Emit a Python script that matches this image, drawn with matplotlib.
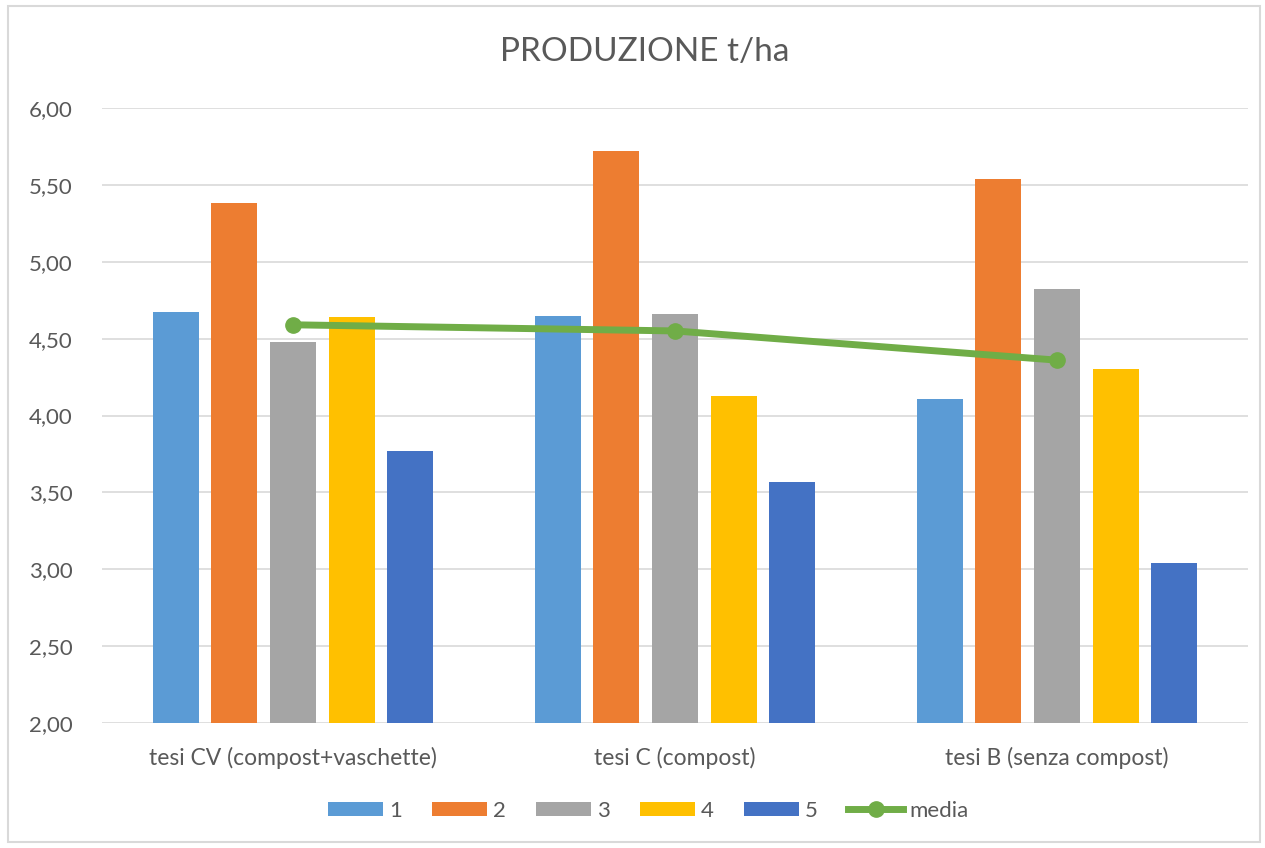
import matplotlib.pyplot as plt
import numpy as np
from matplotlib.patches import Rectangle

# Dati (t/ha)
categorie = ['tesi CV (compost+vaschette)', 'tesi C (compost)', 'tesi B (senza compost)']
serie_nomi = ['1', '2', '3', '4', '5']
serie_1 = [4.67, 4.65, 4.11]
serie_2 = [5.38, 5.72, 5.54]
serie_3 = [4.48, 4.66, 4.82]
serie_4 = [4.64, 4.13, 4.30]
serie_5 = [3.77, 3.57, 3.04]
media = [4.59, 4.55, 4.36]
y_ticks = [2.0, 2.5, 3.0, 3.5, 4.0, 4.5, 5.0, 5.5, 6.0]

colori = ['#5B9BD5', '#ED7D31', '#A5A5A5', '#FFC000', '#4472C4']
grigio = '#595959'

plt.rcParams['font.family'] = ['Lato', 'DejaVu Sans']

fig = plt.figure(figsize=(12.65, 8.48), dpi=100)
ax = fig.add_axes([102 / 1265, 1 - 723 / 848, 1146 / 1265, 615 / 848])

# bordo del grafico
fig.patches.append(Rectangle((8 / 1265, 1 - 842 / 848), 1252 / 1265, 836 / 848,
                             transform=fig.transFigure, fill=False,
                             edgecolor='#D9D9D9', linewidth=1.5))

x = np.arange(len(categorie))
passo = 0.1536
larghezza = 0.1204
tutte = [serie_1, serie_2, serie_3, serie_4, serie_5]
for i, (valori, nome) in enumerate(zip(tutte, serie_nomi)):
    ax.bar(x + (i - 2) * passo, [v - 2 for v in valori], larghezza, bottom=2,
           color=colori[i], label=nome, zorder=2)

ax.plot(x, media, color='#70AD47', linewidth=5, marker='o', markersize=11,
        label='media', zorder=3)

ax.set_xlim(-0.5, 2.5)
ax.set_ylim(2, 6)
ax.set_yticks(y_ticks)
ax.set_yticklabels([f'{v:.2f}'.replace('.', ',') for v in y_ticks])
ax.set_xticks(x)
ax.set_xticklabels(categorie)
ax.tick_params(axis='y', length=0, labelsize=16, colors=grigio, pad=21)
ax.tick_params(axis='x', length=0, labelsize=16.5, colors=grigio, pad=17)
ax.grid(axis='y', color='#D9D9D9', linewidth=1.2, zorder=0)
for s in ax.spines.values():
    s.set_visible(False)

fig.text(645 / 1265, 1 - 52 / 848, 'PRODUZIONE t/ha', ha='center', va='center',
         fontsize=24, color=grigio)

handles, labels = ax.get_legend_handles_labels()
ordine = [1, 2, 3, 4, 5, 0]
leg = fig.legend([handles[k] for k in ordine], [labels[k] for k in ordine],
                 loc='center', bbox_to_anchor=(648 / 1265, 1 - 811 / 848), ncol=6,
                 frameon=False, fontsize=16, handlelength=2.5, handleheight=0.63,
                 columnspacing=1.35, handletextpad=0.25)
for t in leg.get_texts():
    t.set_color(grigio)

plt.savefig('out.png', dpi=100)
